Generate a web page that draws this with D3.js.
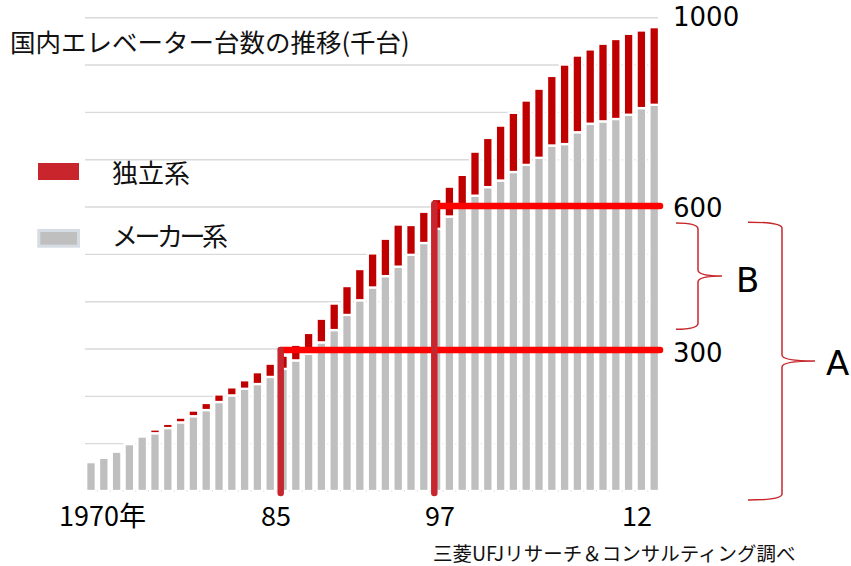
<!DOCTYPE html>
<html><head><meta charset="utf-8">
<script src="https://cdn.jsdelivr.net/npm/d3@7"></script>
<style>
html,body{margin:0;padding:0;background:#fff;}
svg{display:block;}
</style></head>
<body>
<script>
// ---- data ----
const years = d3.range(1970, 2015);
const makerUnits = [61,70,83,99,115,122,133,145,158,171,188,202,216,226,241,258,276,290,314,340,
  372,403,430,454,474,499,524,554,580,603,624,642,656,674,689,704,730,733,758,776,781,786,795,809,816];
const independentUnits = [0,0,0,0,0,8,9,10,12,15,16,17,18,25,28,28,33,44,50,56,
  61,66,72,79,89,63,66,63,63,65,93,104,116,125,136,146,147,168,162,157,164,169,171,164,164];
const seriesKeys = ["maker","independent"];
const seriesNames = ["独立系","メーカー系"];
const gridValues = d3.range(0, 1001, 100);
const rightTickValues = [1000, 600, 300];
const xTickYears = [1970, 1985, 1997, 2012];
const xTickLabels = ["1970年", "85", "97", "12"];
const markYears = [1985, 1997];
const markLevels = [300, 600];
const braceB = [342, 566];
const braceA = [-19, 568];
const titleText = "国内エレベーター台数の推移(千台)";
const sourceText = "三菱UFJリサーチ＆コンサルティング調べ";

// ---- drawing ----
const W = 851, H = 566;
const svg = d3.select("body").append("svg").attr("width", W).attr("height", H);

const x = d3.scaleBand().domain(years).range([84.6, 660.6]).paddingInner(0.25).paddingOuter(0.125);
const y = d3.scaleLinear().domain([0, 1000]).range([491, 17.7]);
const cx = yr => x(yr) + x.bandwidth() / 2;

const table = years.map((yr, i) => ({year: yr, maker: makerUnits[i], independent: independentUnits[i]}));
const stacked = d3.stack().keys(seriesKeys)(table);
const colors = {maker: "#BFBFBF", independent: "#C00000"};

// gridlines
svg.append("g").selectAll("line").data(gridValues).join("line")
  .attr("x1", 85).attr("x2", 658)
  .attr("y1", d => y(d)).attr("y2", d => y(d))
  .attr("stroke", "#D9D9D9").attr("stroke-width", 1.4);

// bars
svg.append("g").selectAll("g").data(stacked).join("g")
  .attr("fill", d => colors[d.key])
  .selectAll("rect").data(d => d.filter(s => s[1] - s[0] > 0)).join("rect")
  .attr("x", d => x(d.data.year))
  .attr("width", x.bandwidth())
  .attr("y", d => y(d[1]))
  .attr("height", d => y(d[0]) - y(d[1]))
  .attr("stroke", "#fff").attr("stroke-width", 2.3);

// horizontal annotation lines
const xRight = 660;
svg.append("g").selectAll("line").data(markLevels).join("line")
  .attr("x1", (d, i) => cx(markYears[i]) - 2)
  .attr("x2", xRight)
  .attr("y1", d => y(d) + (d === 300 ? 1 : -1)).attr("y2", d => y(d) + (d === 300 ? 1 : -1))
  .attr("stroke", "#FF0000").attr("stroke-width", 6.5).attr("stroke-linecap", "round");

// vertical annotation lines
svg.append("g").selectAll("line").data(markYears).join("line")
  .attr("x1", d => cx(d) - 2.3).attr("x2", d => cx(d) - 2.3)
  .attr("y1", (d, i) => y(markLevels[i]) + (i === 0 ? 1 : -3))
  .attr("y2", y(-4))
  .attr("stroke", "#C8262E").attr("stroke-width", 6.5).attr("stroke-linecap", "round");

// right-side value labels
svg.append("g").selectAll("text").data(rightTickValues).join("text")
  .attr("x", 673).attr("y", d => y(d) + (d === 300 ? 13 : (d === 1000 ? 8 : 10)))
  .attr("font-family", "'DejaVu Sans', Verdana, sans-serif").attr("font-size", 26)
  .attr("fill", "#000").text(d => d);

// x labels
const nudge = [11.5, -7, 3.5, 8.5];
svg.append("g").selectAll("text").data(xTickYears).join("text")
  .attr("x", (d, i) => cx(d) + nudge[i]).attr("y", 526)
  .attr("text-anchor", "middle")
  .attr("font-family", "'Noto Sans CJK JP', sans-serif").attr("font-size", 27)
  .attr("fill", "#000").text((d, i) => xTickLabels[i]);

// title
svg.append("text").attr("x", 10).attr("y", 52)
  .attr("font-family", "'Noto Sans CJK JP', sans-serif").attr("font-size", 25.5)
  .attr("fill", "#111").text(titleText);

// legend
svg.append("rect").attr("x", 38).attr("y", 163).attr("width", 41).attr("height", 17).attr("fill", "#C9252C");
svg.append("rect").attr("x", 38.8).attr("y", 230.5).attr("width", 39.7).attr("height", 15.7)
  .attr("fill", "#BFBFBF").attr("stroke", "#D6DCE4").attr("stroke-width", 3);
svg.append("g").selectAll("text").data(seriesNames).join("text")
  .attr("x", 112).attr("y", (d, i) => i === 0 ? 183 : 246)
  .attr("font-family", "'Noto Sans CJK JP', sans-serif").attr("font-size", 26)
  .attr("letter-spacing", (d, i) => i === 0 ? 0 : -3.5)
  .attr("fill", "#111").text(d => d);

// source
svg.append("text").attr("x", 433).attr("y", 561)
  .attr("font-family", "'Noto Sans CJK JP', sans-serif").attr("font-size", 19.5)
  .attr("fill", "#111").text(sourceText);

// braces
function bracePath(xl, xs, xt, y0, y1) {
  const ym = (y0 + y1) / 2, r = 6;
  const p = d3.path();
  p.moveTo(xl, y0);
  p.quadraticCurveTo(xs, y0, xs, y0 + r);
  p.lineTo(xs, ym - r);
  p.quadraticCurveTo(xs, ym, xt, ym);
  p.quadraticCurveTo(xs, ym, xs, ym + r);
  p.lineTo(xs, y1 - r);
  p.quadraticCurveTo(xs, y1, xl, y1);
  return p.toString();
}
const braceStyle = sel => sel.attr("fill", "none").attr("stroke", "#C8282D").attr("stroke-width", 1.5);
svg.append("path").attr("d", bracePath(676, 698, 722, y(braceB[1]), y(braceB[0]))).call(braceStyle);
svg.append("path").attr("d", bracePath(748, 782, 815, y(braceA[1]), y(braceA[0]))).call(braceStyle);

svg.append("text").attr("x", 736).attr("y", 292)
  .attr("font-family", "'DejaVu Sans', Verdana, sans-serif").attr("font-size", 34)
  .attr("fill", "#000").text("B");
svg.append("text").attr("x", 826).attr("y", 375)
  .attr("font-family", "'DejaVu Sans', Verdana, sans-serif").attr("font-size", 34)
  .attr("fill", "#000").text("A");
</script>
</body></html>
